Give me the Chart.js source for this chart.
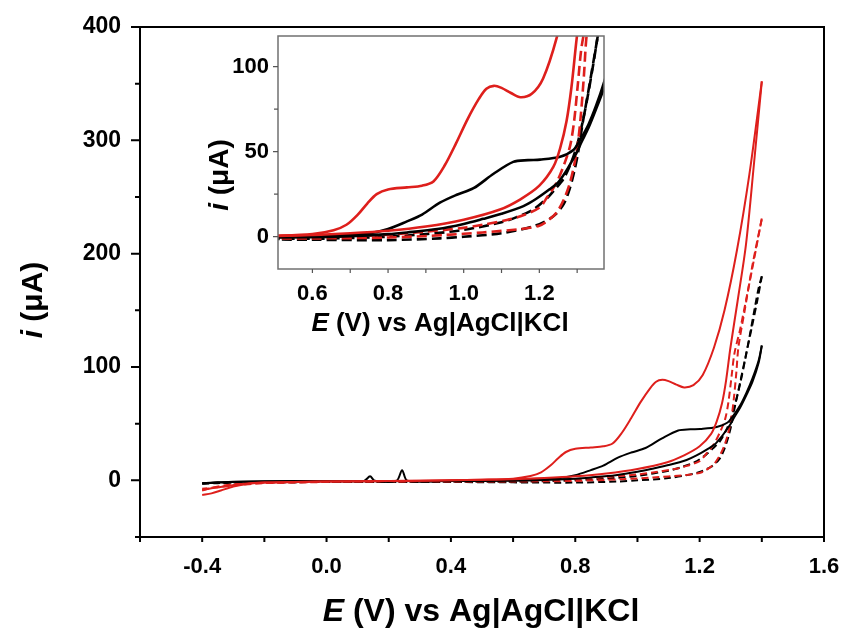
<!DOCTYPE html>
<html><head><meta charset="utf-8">
<script src="https://cdn.jsdelivr.net/npm/chart.js@4.4.1/dist/chart.umd.min.js"></script>
<style>
html,body{margin:0;padding:0;background:#fff;}
#wrap{position:relative;width:843px;height:628px;overflow:hidden;}
#main{position:absolute;left:0;top:0;}
#inset{position:absolute;left:190px;top:30px;}
</style></head><body>
<div id="wrap"><canvas id="main" width="843" height="628"></canvas><canvas id="inset" width="425" height="312"></canvas></div>
<script>
// ---- data (E in V, i in uA), each CV loop: forward scan then reverse scan ----
const redSolidE = [-0.4,-0.37,-0.34,-0.3,-0.25,-0.2,-0.1,0.0,0.2,0.4,0.5,0.6,0.656,0.69,0.72,0.745,0.77,0.8,0.85,0.89,0.92,0.95,0.98,1.01,1.04,1.06,1.08,1.1,1.125,1.15,1.18,1.21,1.246,1.28,1.32,1.36,1.4,
  1.375,1.349,1.322,1.299,1.285,1.272,1.255,1.237,1.2,1.15,1.096,1.0,0.9,0.8,0.7,0.6,0.4,0.2,0.0,-0.2,-0.28,-0.33,-0.37,-0.4];
const redSolidI = [-13,-11.5,-9,-5.5,-3,-2,-1.5,-1,-0.5,0,0.5,1.5,3.8,7,13,19.5,25,27.8,29,30,32.5,42,55,69,81,87,88.7,87.5,84.5,82,84,93,117,150,203,270,352,
  280,208,158,117,88,68,52,41,30,22,16,10,6,3.5,2,1,0,-0.5,-1,-2,-3.5,-5.5,-7,-8.5];

const blackSolidE = [-0.4,-0.35,-0.3,-0.2,0.0,0.12,0.14,0.155,0.225,0.243,0.26,0.4,0.6,0.7,0.752,0.8,0.85,0.89,0.937,0.98,1.026,1.079,1.131,1.17,1.202,1.255,1.29,1.308,1.33,1.35,1.37,1.39,1.4,
  1.39,1.37,1.35,1.33,1.31,1.3,1.285,1.272,1.25,1.228,1.19,1.158,1.1,1.052,1.0,0.93,0.85,0.8,0.7,0.6,0.4,0.2,0.0,-0.2,-0.3,-0.35,-0.4];
const blackSolidI = [-2.5,-1.8,-1.2,-0.8,-0.5,-0.5,3.5,-0.4,-0.4,9,-0.4,-0.3,0.2,1,2,4.5,9,13,20,24.5,28.5,37,44,45,45.3,47,51,57,66,77,90,106,119,
  104,87,75,64,55,50,44,39,32,28,22,18,13.5,10.5,7.5,4.5,2.5,1.5,0.3,-0.3,-0.6,-0.7,-0.8,-1,-1.5,-2,-2.8];

const redDashE = [-0.4,-0.36,-0.3,-0.2,0.0,0.2,0.4,0.6,0.8,0.95,1.05,1.15,1.2,1.22,1.245,1.265,1.28,1.292,1.302,1.31,1.318,1.325,1.345,1.37,1.4,
  1.375,1.35,1.33,1.312,1.302,1.292,1.282,1.268,1.246,1.22,1.2,1.15,1.114,1.05,1.0,0.9,0.8,0.7,0.6,0.4,0.2,0.0,-0.2,-0.3,-0.35,-0.4];
const redDashI = [-9,-6,-3.5,-2,-1.5,-1.2,-1,-1,-0.5,1,2.5,4.5,6.5,9,14,22,31,42,55,72,95,118,150,190,231,
  195,160,133,112,90,68,54,44,32,23,17,12,9.8,7,5.2,3,1.2,0.5,0,-0.5,-1,-1.5,-2.5,-4.5,-6,-7.5];

const blackDashE = [-0.4,-0.35,-0.3,0.0,0.4,0.6,0.8,0.937,1.0,1.1,1.19,1.237,1.264,1.28,1.292,1.303,1.314,1.33,1.35,1.37,1.385,1.4,
  1.39,1.378,1.362,1.346,1.33,1.315,1.3,1.285,1.264,1.242,1.22,1.184,1.14,1.1,1.0,0.9,0.8,0.7,0.6,0.4,0.0,-0.3,-0.4];
const blackDashI = [-3,-2.5,-2,-1.5,-1.5,-1.8,-2,-1,0,2,6.5,12,19,28,38,50,66,86,112,138,158,180,
  170,153,129,106,85,68,54,44,34,28,22.5,16,11.5,8.5,4,1.5,0,-0.8,-1.2,-1.3,-1.5,-2,-2.5];

// ---- ticks ----
const mainXTicks = [-0.4,0.0,0.4,0.8,1.2,1.6];
const mainXMinor = [-0.6,-0.2,0.2,0.6,1.0,1.4];
const mainYTicks = [0,100,200,300,400];
const mainYMinor = [-50,50,150,250,350];
const insetXTicks = [0.6,0.8,1.0,1.2];
const insetXMinor = [0.7,0.9,1.1,1.3];
const insetYTicks = [0,50,100];
const insetYMinor = [25,75];

// ---- titles ----
const xTitleParts = [['E', true], [' (V) vs Ag|AgCl|KCl', false]];
const yTitleParts = [['i', true], [' (\u03bcA)', false]];

const RED = '#de1f1c';
const BLACK = '#000000';
const FONT = '"Liberation Sans", Arial, Helvetica, sans-serif';

function buildDatasets(lw, dash) {
  const series = [
    {E: blackDashE, I: blackDashI, color: BLACK, dashed: true},
    {E: redDashE, I: redDashI, color: RED, dashed: true},
    {E: blackSolidE, I: blackSolidI, color: BLACK, dashed: false},
    {E: redSolidE, I: redSolidI, color: RED, dashed: false}
  ];
  const out = [];
  series.forEach(s => {
    const k = s.E.indexOf(Math.max(...s.E));
    const fwd = s.E.slice(0, k + 1).map((e, j) => ({x: e, y: s.I[j]}));
    const rev = s.E.slice(k).map((e, j) => ({x: e, y: s.I[k + j]}));
    [fwd, rev].forEach(d => out.push({
      data: d, borderColor: s.color, borderWidth: lw, borderDash: s.dashed ? dash : [],
      pointRadius: 0, tension: 0.3, fill: false, clip: 0
    }));
  });
  return out.reverse();
}

function drawParts(ctx, parts, size, cx, cy, rot) {
  ctx.save();
  ctx.translate(cx, cy);
  if (rot) ctx.rotate(rot);
  ctx.textBaseline = 'alphabetic';
  ctx.textAlign = 'left';
  ctx.fillStyle = '#000';
  const fonts = parts.map(p => (p[1] ? 'italic ' : '') + 'bold ' + size + 'px ' + FONT);
  let w = 0;
  parts.forEach((p, i) => { ctx.font = fonts[i]; w += ctx.measureText(p[0]).width; });
  let x = -w / 2;
  parts.forEach((p, i) => { ctx.font = fonts[i]; ctx.fillText(p[0], x, 0); x += ctx.measureText(p[0]).width; });
  ctx.restore();
}

const decor = {
  id: 'decor',
  afterDraw(chart, args, o) {
    const {ctx, chartArea: a} = chart;
    const x = chart.scales.x, y = chart.scales.y;
    ctx.save();
    ctx.lineCap = 'butt';
    ctx.strokeStyle = o.frameColor;
    ctx.lineWidth = o.frameWidth;
    ctx.strokeRect(a.left, a.top, a.right - a.left, a.bottom - a.top);
    ctx.strokeStyle = o.tickColor;
    ctx.lineWidth = o.tickWidth;
    ctx.beginPath();
    o.xMajor.forEach(v => { const p = x.getPixelForValue(v); ctx.moveTo(p, a.bottom); ctx.lineTo(p, a.bottom + o.xMajorLen); });
    o.xMinor.forEach(v => { const p = x.getPixelForValue(v); ctx.moveTo(p, a.bottom); ctx.lineTo(p, a.bottom + o.xMinorLen); });
    o.yMajor.forEach(v => { const p = y.getPixelForValue(v); ctx.moveTo(a.left, p); ctx.lineTo(a.left - o.yMajorLen, p); });
    o.yMinor.forEach(v => { const p = y.getPixelForValue(v); ctx.moveTo(a.left, p); ctx.lineTo(a.left - o.yMinorLen, p); });
    ctx.stroke();
    ctx.restore();
    drawParts(ctx, xTitleParts, o.xTitleSize, o.xTitleX, o.xTitleY, 0);
    drawParts(ctx, yTitleParts, o.yTitleSize, o.yTitleX, o.yTitleY, -Math.PI / 2);
  }
};

function axis(min, max, ticks, fmt, size, pad, fitFn) {
  return {
    type: 'linear', min: min, max: max,
    afterBuildTicks: s => { s.ticks = ticks.map(v => ({value: v})); },
    afterFit: s => {
      fitFn(s);
      s.paddingLeft = 0; s.paddingRight = 0; s.paddingTop = 0; s.paddingBottom = 0;
    },
    grid: {display: false, drawTicks: false},
    border: {display: false},
    ticks: {
      autoSkip: false, maxRotation: 0, color: '#000', padding: pad,
      font: {family: FONT, size: size, weight: 'bold'},
      callback: v => fmt(v)
    }
  };
}

Chart.defaults.animation = false;

new Chart(document.getElementById('main'), {
  type: 'line',
  data: {datasets: buildDatasets(2, [7, 4])},
  plugins: [decor],
  options: {
    responsive: false, devicePixelRatio: 1, animation: false,
    layout: {padding: {left: 0, top: 27, right: 19, bottom: 0}},
    plugins: {
      legend: {display: false}, tooltip: {enabled: false},
      decor: {
        frameColor: '#000', frameWidth: 2, tickColor: '#000', tickWidth: 2,
        xMajor: mainXTicks, xMinor: mainXMinor, xMajorLen: 5, xMinorLen: 5,
        yMajor: mainYTicks, yMinor: mainYMinor, yMajorLen: 9, yMinorLen: 5,
        xTitleSize: 32, xTitleX: 481, xTitleY: 621,
        yTitleSize: 30, yTitleX: 42, yTitleY: 300
      }
    },
    scales: {
      x: axis(-0.6, 1.6, mainXTicks, v => v.toFixed(1), 22, 17, s => { s.height = 91; }),
      y: axis(-50, 400, mainYTicks, v => String(v), 23, 19, s => { s.width = 140; })
    }
  }
});

new Chart(document.getElementById('inset'), {
  type: 'line',
  data: {datasets: buildDatasets(2.6, [10, 5])},
  plugins: [decor],
  options: {
    responsive: false, devicePixelRatio: 1, animation: false,
    layout: {padding: {left: 0, top: 6, right: 11, bottom: 0}},
    plugins: {
      legend: {display: false}, tooltip: {enabled: false},
      decor: {
        frameColor: '#707070', frameWidth: 1.5, tickColor: '#555', tickWidth: 1.2,
        xMajor: insetXTicks, xMinor: insetXMinor, xMajorLen: 4, xMinorLen: 4,
        yMajor: insetYTicks, yMinor: insetYMinor, yMajorLen: 5, yMinorLen: 4,
        xTitleSize: 26, xTitleX: 250, xTitleY: 301,
        yTitleSize: 28, yTitleX: 38, yTitleY: 145
      }
    },
    scales: {
      x: axis(0.509, 1.371, insetXTicks, v => v.toFixed(1), 22, 12, s => { s.height = 73; }),
      y: axis(-19, 118, insetYTicks, v => String(v), 22, 9, s => { s.width = 88; })
    }
  }
});
</script>
</body></html>
